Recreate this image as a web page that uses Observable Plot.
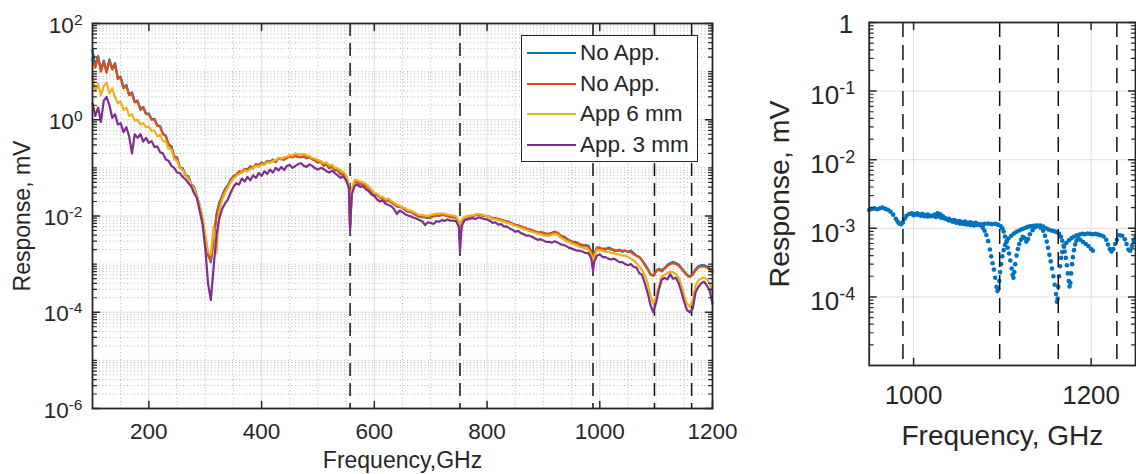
<!DOCTYPE html>
<html>
<head>
<meta charset="utf-8">
<script src="https://cdn.jsdelivr.net/npm/d3@7"></script>
<script src="https://cdn.jsdelivr.net/npm/@observablehq/plot@0.6"></script>
<style>
  html, body { margin: 0; padding: 0; background: #fff; }
  #chart { position: relative; width: 1136px; height: 474px; overflow: hidden;
           font-family: "Liberation Sans", Arial, Helvetica, sans-serif; color: #262626; }
  #chart svg { position: absolute; top: 0; }
  .legend { position: absolute; left: 521px; top: 35px; width: 177px; height: 127px;
            box-sizing: border-box; border: 1px solid #262626; background: #fff; }
  .legend .swatch { position: absolute; left: 5px; width: 49px; height: 2px; }
  .legend .label { position: absolute; left: 58px; font-size: 22.5px; line-height: 22.5px; white-space: nowrap; }
</style>
</head>
<body>
<div id="chart"></div>
<script>
// ---------- spectra (left panel), response in mV ----------
const freqGHz = [
  100,105,110,115,120,125,130,135,140,145,
  150,155,160,165,170,175,180,185,190,195,
  200,205,210,215,220,225,230,235,240,245,
  250,255,260,265,270,275,280,285,290,295,
  300,305,310,315,320,325,330,335,340,345,
  350,355,360,365,370,375,380,385,390,395,
  400,405,410,415,420,425,430,435,440,445,
  450,455,460,465,470,475,480,485,490,495,
  500,505,510,515,520,525,530,535,540,545,
  550,555,557,560,565,570,575,580,585,590,595,
  600,605,610,615,620,625,630,635,640,645,
  650,655,660,665,670,675,680,685,690,695,
  700,705,710,715,720,725,730,735,740,745,
  750,752,755,760,765,770,775,780,785,790,795,
  800,805,810,815,820,825,830,835,840,845,
  850,855,860,865,870,875,880,885,890,895,
  900,905,910,915,920,925,930,935,940,945,
  950,955,960,965,970,975,980,985,988,990,995,
  1000,1005,1010,1015,1020,1025,1030,1035,1040,1045,
  1050,1055,1060,1065,1070,1075,1080,1085,1090,1095,
  1100,1105,1110,1115,1120,1125,1130,1135,1140,1145,
  1150,1155,1160,1165,1170,1175,1180,1185,1190,1195,
  1200
];

const noAppA = [
  28,13,21,10.5,17,10,18,11.5,15,7.3,
  7.8,4.6,5.3,3.3,3.7,2.35,2.5,1.65,1.85,1.32,
  1.35,1.02,1.04,0.76,0.74,0.51,0.47,0.31,0.28,0.175,
  0.165,0.102,0.098,0.071,0.067,0.046,0.041,0.026,0.017,0.0085,
  0.0036,0.0016,0.0011,0.0033,0.011,0.019,0.026,0.036,0.043,0.057,
  0.067,0.072,0.083,0.084,0.092,0.094,0.108,0.098,0.118,0.115,
  0.13,0.118,0.138,0.134,0.148,0.132,0.158,0.155,0.148,0.165,
  0.172,0.17,0.176,0.168,0.17,0.172,0.158,0.168,0.152,0.142,
  0.128,0.138,0.112,0.118,0.098,0.108,0.09,0.09,0.074,0.075,
  0.061,0.041,0.006,0.033,0.051,0.051,0.046,0.045,0.043,0.039,0.032,
  0.028,0.028,0.025,0.022,0.02,0.022,0.0195,0.0175,0.0158,0.016,
  0.015,0.0132,0.0122,0.0124,0.0113,0.0102,0.0096,0.0098,0.0095,0.009,
  0.0093,0.01,0.0104,0.0101,0.0105,0.0106,0.0101,0.0095,0.0095,0.0094,
  0.0072,0.0029,0.0077,0.0094,0.0097,0.0098,0.01,0.0106,0.0108,0.0103,0.0101,
  0.01,0.0095,0.0089,0.009,0.0087,0.0082,0.0079,0.0078,0.0074,0.0069,
  0.0065,0.0064,0.0061,0.0057,0.0054,0.0053,0.0051,0.0047,0.0045,0.0046,
  0.0045,0.0042,0.0042,0.0045,0.0047,0.0044,0.0039,0.0038,0.0035,0.0031,
  0.0029,0.0029,0.0028,0.0025,0.0024,0.0025,0.0024,0.0018,0.001,0.0016,0.0022,
  0.0022,0.002,0.002,0.0022,0.0021,0.0019,0.0019,0.002,0.0018,0.0019,
  0.0018,0.0019,0.0017,0.0015,0.0014,0.0012,0.001,0.0008,0.00062,0.00058,
  0.00072,0.0008,0.00074,0.00083,0.00096,0.00105,0.0011,0.00105,0.00097,0.00083,
  0.0007,0.0006,0.00055,0.00063,0.00078,0.0009,0.00095,0.00094,0.0009,0.0008,
  0.00072
];

const noAppB = [
  18,12,20,10,16,9.5,17,11,14,7,
  7.5,4.5,5,3.2,3.5,2.3,2.4,1.6,1.8,1.3,
  1.3,1.0,1.0,0.75,0.72,0.5,0.45,0.3,0.27,0.17,
  0.16,0.1,0.095,0.07,0.065,0.045,0.04,0.025,0.016,0.008,
  0.0035,0.0015,0.0012,0.0035,0.01,0.018,0.025,0.035,0.042,0.055,
  0.065,0.07,0.085,0.08,0.095,0.09,0.105,0.1,0.12,0.11,
  0.125,0.12,0.14,0.13,0.14,0.135,0.16,0.15,0.15,0.16,
  0.17,0.165,0.18,0.17,0.165,0.175,0.16,0.165,0.15,0.145,
  0.13,0.135,0.11,0.12,0.1,0.105,0.088,0.092,0.075,0.072,
  0.06,0.04,0.0058,0.032,0.05,0.05,0.047,0.046,0.042,0.038,0.033,
  0.029,0.027,0.024,0.023,0.021,0.021,0.019,0.018,0.016,0.0155,
  0.0145,0.0135,0.0125,0.012,0.011,0.0105,0.0098,0.0095,0.0093,0.0092,
  0.0095,0.0098,0.0102,0.0104,0.0106,0.0103,0.0099,0.0097,0.0096,0.0092,
  0.007,0.0028,0.0075,0.0092,0.0096,0.0099,0.0101,0.0104,0.0106,0.0104,0.0102,
  0.0099,0.0096,0.009,0.0088,0.0086,0.0083,0.008,0.0077,0.0073,0.007,
  0.0066,0.0063,0.006,0.0058,0.0055,0.0052,0.005,0.0048,0.0046,0.0045,
  0.0044,0.0043,0.0043,0.0044,0.0046,0.0045,0.004,0.0037,0.0034,0.0032,
  0.003,0.0028,0.0027,0.0026,0.0025,0.0024,0.0023,0.0018,0.001,0.0016,0.0022,
  0.0021,0.0021,0.0021,0.0021,0.002,0.002,0.0019,0.0019,0.0019,0.0019,
  0.0018,0.0018,0.0016,0.0015,0.0014,0.0012,0.00095,0.00078,0.0006,0.00057,
  0.0007,0.00078,0.0007,0.0008,0.00092,0.001,0.00105,0.001,0.00093,0.0008,
  0.00068,0.00058,0.00054,0.0006,0.00074,0.00085,0.0009,0.00089,0.00085,0.00076,
  0.00068
];

const app6mm = [
  8,4,5.5,3.2,5,6,3.5,4.5,3,2.2,
  2.4,1.6,1.8,1.2,1.3,0.95,1.0,0.8,0.85,0.7,
  0.72,0.58,0.6,0.45,0.48,0.36,0.35,0.25,0.24,0.15,
  0.14,0.1,0.09,0.07,0.06,0.045,0.038,0.026,0.017,0.01,
  0.004,0.0018,0.0016,0.006,0.0017,0.012,0.022,0.03,0.038,0.05,
  0.06,0.068,0.075,0.08,0.088,0.085,0.095,0.1,0.11,0.105,
  0.118,0.115,0.13,0.128,0.14,0.145,0.16,0.155,0.165,0.17,
  0.185,0.18,0.2,0.19,0.19,0.195,0.185,0.175,0.16,0.155,
  0.145,0.14,0.125,0.13,0.112,0.115,0.1,0.098,0.088,0.082,
  0.07,0.046,0.0075,0.036,0.056,0.055,0.052,0.05,0.046,0.041,0.035,
  0.03,0.029,0.025,0.025,0.022,0.023,0.0205,0.019,0.017,0.0165,
  0.015,0.0145,0.0132,0.0128,0.012,0.0112,0.0105,0.0104,0.0102,0.0101,
  0.0105,0.0108,0.0112,0.0112,0.0114,0.0111,0.0106,0.0104,0.0102,0.0098,
  0.0078,0.0037,0.0082,0.0095,0.0098,0.0102,0.0104,0.0108,0.011,0.0107,0.0104,
  0.0098,0.0095,0.0086,0.0086,0.0082,0.0079,0.0076,0.0073,0.007,0.0066,
  0.0062,0.006,0.0056,0.0054,0.0051,0.0049,0.0047,0.0045,0.0043,0.0042,
  0.004,0.0039,0.0039,0.0041,0.0042,0.0041,0.0036,0.0033,0.003,0.0029,
  0.0027,0.0026,0.0024,0.0023,0.0022,0.0021,0.002,0.0016,0.0009,0.0014,0.002,
  0.0019,0.0019,0.0018,0.0018,0.0017,0.0017,0.0016,0.0016,0.0015,0.0015,
  0.0014,0.0013,0.0012,0.00105,0.0009,0.00075,0.0006,0.0004,0.00022,0.00015,
  0.00022,0.00035,0.00056,0.0006,0.00065,0.0007,0.00068,0.00062,0.00052,0.00036,
  0.00022,0.00015,0.00013,0.00018,0.00036,0.00046,0.0005,0.00053,0.00048,0.0004,
  0.00026
];

const app3mm = [
  2.2,1.2,1.8,0.9,2.5,3.0,2.0,1.1,1.3,0.8,
  0.85,0.55,0.7,0.45,0.2,0.5,0.42,0.5,0.35,0.42,
  0.33,0.36,0.27,0.28,0.21,0.2,0.15,0.14,0.11,0.1,
  0.08,0.078,0.065,0.058,0.048,0.042,0.03,0.024,0.013,0.007,
  0.0022,0.0004,0.00018,0.0009,0.004,0.009,0.014,0.018,0.022,0.03,
  0.04,0.048,0.045,0.06,0.052,0.065,0.055,0.07,0.062,0.078,
  0.068,0.085,0.075,0.092,0.08,0.1,0.088,0.105,0.09,0.11,
  0.115,0.1,0.11,0.12,0.125,0.11,0.105,0.118,0.11,0.098,
  0.092,0.1,0.095,0.085,0.08,0.088,0.078,0.07,0.062,0.066,
  0.055,0.038,0.0052,0.028,0.042,0.045,0.04,0.042,0.036,0.033,0.028,
  0.026,0.022,0.02,0.021,0.018,0.017,0.016,0.014,0.011,0.013,
  0.012,0.0108,0.0102,0.0098,0.0092,0.0088,0.0082,0.0078,0.0065,0.0074,
  0.0072,0.0068,0.0078,0.0076,0.0082,0.0079,0.0085,0.008,0.008,0.0078,
  0.006,0.0018,0.0062,0.0082,0.0085,0.0088,0.009,0.0087,0.0094,0.009,0.0087,
  0.0085,0.008,0.0072,0.0074,0.0066,0.0068,0.006,0.0061,0.0055,0.0052,
  0.0047,0.0049,0.0044,0.0042,0.0039,0.0039,0.0037,0.0034,0.0032,0.0033,
  0.0031,0.0029,0.0029,0.0028,0.003,0.0028,0.0026,0.0025,0.0024,0.0022,
  0.0021,0.002,0.0019,0.0019,0.0018,0.0017,0.0017,0.0013,0.0007,0.0011,0.0015,
  0.0016,0.0014,0.0014,0.0013,0.00125,0.0013,0.0012,0.0011,0.0011,0.001,
  0.00095,0.001,0.00088,0.00085,0.00065,0.0006,0.0004,0.00025,0.00014,0.0001,
  0.00016,0.0003,0.00048,0.00052,0.00048,0.00062,0.0005,0.00052,0.0004,0.00026,
  0.00016,0.00011,0.0001,0.00012,0.00026,0.00034,0.0004,0.00043,0.00036,0.00028,
  0.00015
];

const seriesLabels = ["No App.", "No App.", "App 6 mm", "App. 3 mm"];
const seriesColors = ["#0072BD", "#D95319", "#EDB120", "#7E2F8E"];

// ---------- high-frequency detail (right panel), two sweeps ----------
const freqA = [
  950,953,956,959,962,965,968,971,974,977,
  980,982,984,986,988,990,992,995,998,1001,
  1004,1007,1010,1013,1016,1019,1022,1025,1028,1031,
  1034,1037,1040,1043,1046,1049,1052,1055,1058,1061,
  1064,1067,1070,1073,1076,1078,1080,1082,1084,1086,
  1087.5,1089,1090.5,1092,1093.5,1094.5,1095.5,1096.5,1097.5,1098.5,
  1100,1101.5,1103,1105,1107,1110,1113,1116,1119,1122,
  1125,1128,1131,1134,1137,1140,1143,1146,1148,1150,
  1151.5,1153,1154.5,1156,1157.5,1159,1160.5,1161.5,1162.3,1163,
  1164,1165,1166.2,1167.5,1169.5,1172,1175,1178,1181,1184,
  1187,1190,1193,1196,1199,1202,1205,1208,1211,1214,
  1217,1219,1221,1223,1225,1227,1229,1232,1235,1238,
  1240,1242,1244,1246,1248,1250
];
const respA = [
  1.85e-3,1.92e-3,1.95e-3,1.9e-3,1.96e-3,2.0e-3,1.92e-3,1.86e-3,1.75e-3,1.58e-3,
  1.38e-3,1.25e-3,1.17e-3,1.15e-3,1.22e-3,1.38e-3,1.52e-3,1.62e-3,1.66e-3,1.62e-3,
  1.66e-3,1.6e-3,1.62e-3,1.56e-3,1.58e-3,1.52e-3,1.53e-3,1.46e-3,1.5e-3,1.43e-3,
  1.4e-3,1.36e-3,1.38e-3,1.31e-3,1.32e-3,1.26e-3,1.28e-3,1.22e-3,1.25e-3,1.2e-3,
  1.22e-3,1.18e-3,1.2e-3,1.15e-3,1.1e-3,1.02e-3,9.2e-4,8.0e-4,6.5e-4,4.9e-4,
  3.9e-4,3.1e-4,2.5e-4,1.9e-4,1.4e-4,1.22e-4,1.3e-4,1.7e-4,2.3e-4,3.0e-4,
  3.9e-4,4.8e-4,5.7e-4,6.5e-4,7.1e-4,7.8e-4,8.4e-4,8.9e-4,9.3e-4,9.7e-4,
  1.0e-3,1.04e-3,1.07e-3,1.08e-3,1.1e-3,1.08e-3,1.02e-3,9.2e-4,7.8e-4,6.4e-4,
  5.2e-4,4.1e-4,3.3e-4,2.6e-4,2.0e-4,1.5e-4,1.1e-4,8.5e-5,9.5e-5,1.4e-4,
  2.0e-4,2.8e-4,3.7e-4,4.5e-4,5.4e-4,6.1e-4,6.7e-4,7.2e-4,7.6e-4,7.9e-4,
  8.1e-4,8.3e-4,8.2e-4,8.4e-4,8.3e-4,8.2e-4,8.3e-4,8.1e-4,7.9e-4,7.6e-4,
  6.8e-4,5.8e-4,5.0e-4,4.6e-4,5.0e-4,5.9e-4,6.8e-4,7.9e-4,7.8e-4,6.9e-4,
  5.9e-4,4.9e-4,4.7e-4,5.5e-4,6.5e-4,7.3e-4
];
const freqB = [
  1000,1004,1008,1012,1016,1020,1024,1027,1030,1033,
  1036,1040,1044,1048,1052,1056,1060,1064,1068,1072,
  1076,1080,1084,1088,1092,1095,1098,1100,1101.5,1103,
  1104.5,1106,1107.5,1109,1110.5,1111.5,1112.5,1113.5,1114.5,1116,
  1117.5,1119,1121,1123,1125,1127,1129,1131,1134,1137,
  1140,1143,1146,1149,1152,1155,1158,1161,1164,1166,
  1167.5,1169,1170.3,1171.5,1172.7,1173.8,1174.8,1175.7,1176.6,1177.5,
  1178.5,1179.5,1180.7,1182,1183.5,1185.5,1188,1191,1194,1197,
  1200,1202
];
const respB = [
  1.55e-3,1.58e-3,1.53e-3,1.5e-3,1.48e-3,1.5e-3,1.58e-3,1.65e-3,1.6e-3,1.5e-3,
  1.4e-3,1.3e-3,1.25e-3,1.2e-3,1.17e-3,1.16e-3,1.14e-3,1.12e-3,1.1e-3,1.12e-3,
  1.14e-3,1.16e-3,1.17e-3,1.15e-3,1.16e-3,1.13e-3,1.08e-3,1.0e-3,9.0e-4,7.6e-4,
  6.3e-4,5.2e-4,4.3e-4,3.4e-4,2.6e-4,2.1e-4,1.9e-4,2.3e-4,3.0e-4,4.0e-4,
  5.0e-4,5.9e-4,6.8e-4,7.5e-4,7.2e-4,6.4e-4,7.0e-4,8.2e-4,9.4e-4,1.04e-3,
  1.1e-3,1.1e-3,1.06e-3,1.0e-3,9.6e-4,9.3e-4,9.1e-4,8.8e-4,8.3e-4,7.5e-4,
  6.6e-4,5.6e-4,4.6e-4,3.7e-4,2.9e-4,2.2e-4,1.7e-4,1.42e-4,1.6e-4,2.2e-4,
  3.0e-4,3.8e-4,4.8e-4,5.8e-4,6.6e-4,7.0e-4,6.8e-4,6.3e-4,5.9e-4,5.5e-4,
  5.0e-4,4.7e-4
];

// ---------- axes ----------
const xTicksLeft = [200, 400, 600, 800, 1000, 1200];
const xMinorLeft = [150, 250, 300, 350, 450, 500, 550, 650, 700, 750, 850, 900, 950, 1050, 1100, 1150];
const yTicksLeft = [1e-6, 1e-4, 1e-2, 1, 1e2];
const yTickLabelsLeft = ["10^-6", "10^-4", "10^-2", "10^0", "10^2"];
const waterLinesLeft = [557, 752, 988, 1097, 1163];

const xTicksRight = [1000, 1200];
const yTicksRight = [1e-4, 1e-3, 1e-2, 1e-1, 1];
const yTickLabelsRight = ["10^-4", "10^-3", "10^-2", "10^-1", "1"];
const waterLinesRight = [988, 1097, 1163, 1229];

const ink = "#262626";
const fontFamily = "'Liberation Sans', Arial, Helvetica, sans-serif";
const gridMajor = "#dfdfdf";
const gridMinor = "#b9b9b9";

const isDecade = (v) => Math.abs(Math.log10(v) - Math.round(Math.log10(v))) < 1e-9;
const minorLeft = d3.scaleLog().domain([1e-6, 1e2]).ticks()
  .filter((v) => !(isDecade(v) && Math.round(Math.log10(v)) % 2 === 0));
const minorRight = d3.scaleLog().domain([1e-5, 1]).ticks().filter((v) => !isDecade(v));

// a plain line segment as vector shape, used for inward tick marks
const tickShape = {draw(context, l) { context.moveTo(0, 0); context.lineTo(0, -l); }};

function ticksX(values, len, width) {
  return [
    Plot.vector(values, {x: (d) => d, frameAnchor: "bottom", rotate: 0, length: len, anchor: "start", shape: tickShape, stroke: ink, strokeWidth: width}),
    Plot.vector(values, {x: (d) => d, frameAnchor: "top", rotate: 180, length: len, anchor: "start", shape: tickShape, stroke: ink, strokeWidth: width})
  ];
}
function ticksY(values, len, width) {
  return [
    Plot.vector(values, {y: (d) => d, frameAnchor: "left", rotate: 90, length: len, anchor: "start", shape: tickShape, stroke: ink, strokeWidth: width}),
    Plot.vector(values, {y: (d) => d, frameAnchor: "right", rotate: -90, length: len, anchor: "start", shape: tickShape, stroke: ink, strokeWidth: width})
  ];
}

// turn "10^-2" tick labels into base + raised exponent
function superscript(svg, supSize, supShift) {
  d3.select(svg).selectAll("text").each(function () {
    const s = this.textContent;
    if (!s.includes("^")) return;
    const [base, exp] = s.split("^");
    const t = d3.select(this).text(null);
    t.append("tspan").text(base);
    t.append("tspan").attr("font-size", supSize).attr("dy", supShift).text(exp);
  });
}

const rows = (xs, ys) => xs.map((f, i) => ({f, v: ys[i]}));
const spectra = [noAppA, noAppB, app6mm, app3mm];

// ---------- left panel ----------
const left = Plot.plot({
  width: 740, height: 474,
  marginLeft: 92, marginRight: 28, marginTop: 23, marginBottom: 66,
  style: {fontFamily, color: ink, background: "transparent"},
  x: {domain: [100, 1200], axis: null},
  y: {type: "log", domain: [1e-6, 1e2], axis: null},
  marks: [
    Plot.ruleX(xMinorLeft, {stroke: gridMinor, strokeDasharray: "1,2.5"}),
    Plot.ruleY(minorLeft, {stroke: gridMinor, strokeDasharray: "1,2.5"}),
    Plot.ruleX(xTicksLeft, {stroke: gridMajor}),
    Plot.ruleY(yTicksLeft, {stroke: gridMajor}),
    Plot.ruleX(waterLinesLeft, {stroke: "#111", strokeWidth: 1.5, strokeDasharray: "13,7"}),
    ...spectra.map((s, k) => Plot.line(rows(freqGHz, s), {x: "f", y: "v", stroke: seriesColors[k], strokeWidth: 2.2})),
    ...ticksX(xTicksLeft, 7, 1.5),
    ...ticksY(yTicksLeft, 7, 1.5),
    ...ticksY(minorLeft, 4, 1.2),
    Plot.frame({stroke: ink, strokeWidth: 1.8}),
    Plot.text(xTicksLeft, {x: (d) => d, frameAnchor: "bottom", dy: 15, lineAnchor: "top", textAnchor: "middle", text: (d) => String(d), fontSize: 22.5, fill: ink}),
    Plot.text(yTicksLeft, {y: (d) => d, frameAnchor: "left", dx: -10, dy: 2, textAnchor: "end", lineAnchor: "middle",
      text: (d, i) => yTickLabelsLeft[i], fontSize: 22.5, fill: ink}),
    Plot.text(["Frequency,GHz"], {frameAnchor: "bottom", dy: 43.5, lineAnchor: "top", textAnchor: "middle", text: (d) => d, fontSize: 23, fill: ink}),
    Plot.text(["Response, mV"], {frameAnchor: "left", dx: -79, rotate: -90, lineAnchor: "top", textAnchor: "middle", text: (d) => d, fontSize: 23, fill: ink})
  ]
});
superscript(left, 15.5, -8);
left.style.left = "0px";

// ---------- right panel ----------
const right = Plot.plot({
  width: 396, height: 474,
  marginLeft: 128.7, marginRight: 1, marginTop: 22, marginBottom: 109,
  style: {fontFamily, color: ink, background: "transparent"},
  x: {domain: [950, 1250], axis: null},
  y: {type: "log", domain: [1e-5, 1], axis: null},
  marks: [
    Plot.ruleX(xTicksRight, {stroke: gridMajor}),
    Plot.ruleY(yTicksRight, {stroke: gridMajor}),
    Plot.dot(rows(freqA, respA), {x: "f", y: "v", r: 2.3, fill: seriesColors[0], stroke: null}),
    Plot.dot(rows(freqB, respB), {x: "f", y: "v", r: 2.3, fill: seriesColors[0], stroke: null}),
    Plot.ruleX(waterLinesRight, {stroke: "#111", strokeWidth: 1.5, strokeDasharray: "15,8"}),
    ...ticksX(xTicksRight, 7, 1.5),
    ...ticksY(yTicksRight, 7, 1.5),
    ...ticksY(minorRight, 4, 1.2),
    Plot.frame({stroke: ink, strokeWidth: 1.8}),
    Plot.text(xTicksRight, {x: (d) => d, frameAnchor: "bottom", dy: 20, lineAnchor: "top", textAnchor: "middle", text: (d) => String(d), fontSize: 26, fill: ink}),
    Plot.text(yTicksRight.slice(0, 4), {y: (d) => d, frameAnchor: "left", dx: -14, dy: 5, textAnchor: "end", lineAnchor: "middle",
      text: (d, i) => yTickLabelsRight[i], fontSize: 26, fill: ink}),
    Plot.text(yTicksRight.slice(4), {y: (d) => d, frameAnchor: "left", dx: -16, dy: 2, textAnchor: "end", lineAnchor: "middle",
      text: (d, i) => yTickLabelsRight[4 + i], fontSize: 26, fill: ink}),
    Plot.text(["Frequency, GHz"], {frameAnchor: "bottom", dy: 60, lineAnchor: "top", textAnchor: "middle", text: (d) => d, fontSize: 28, fill: ink}),
    Plot.text(["Response, mV"], {frameAnchor: "left", dx: -100.7, rotate: -90, lineAnchor: "top", textAnchor: "middle", text: (d) => d, fontSize: 28.5, fill: ink})
  ]
});
superscript(right, 18, -10);
right.style.left = "740px";

const chart = document.getElementById("chart");
chart.append(left, right);

// ---------- legend ----------
const legend = document.createElement("div");
legend.className = "legend";
seriesLabels.forEach((name, i) => {
  const cy = 17 + i * 30.7;
  const sw = document.createElement("div");
  sw.className = "swatch";
  sw.style.top = (cy - 1) + "px";
  sw.style.background = seriesColors[i];
  const lb = document.createElement("div");
  lb.className = "label";
  lb.style.top = (cy - 11) + "px";
  lb.textContent = name;
  legend.append(sw, lb);
});
chart.append(legend);
</script>
</body>
</html>
